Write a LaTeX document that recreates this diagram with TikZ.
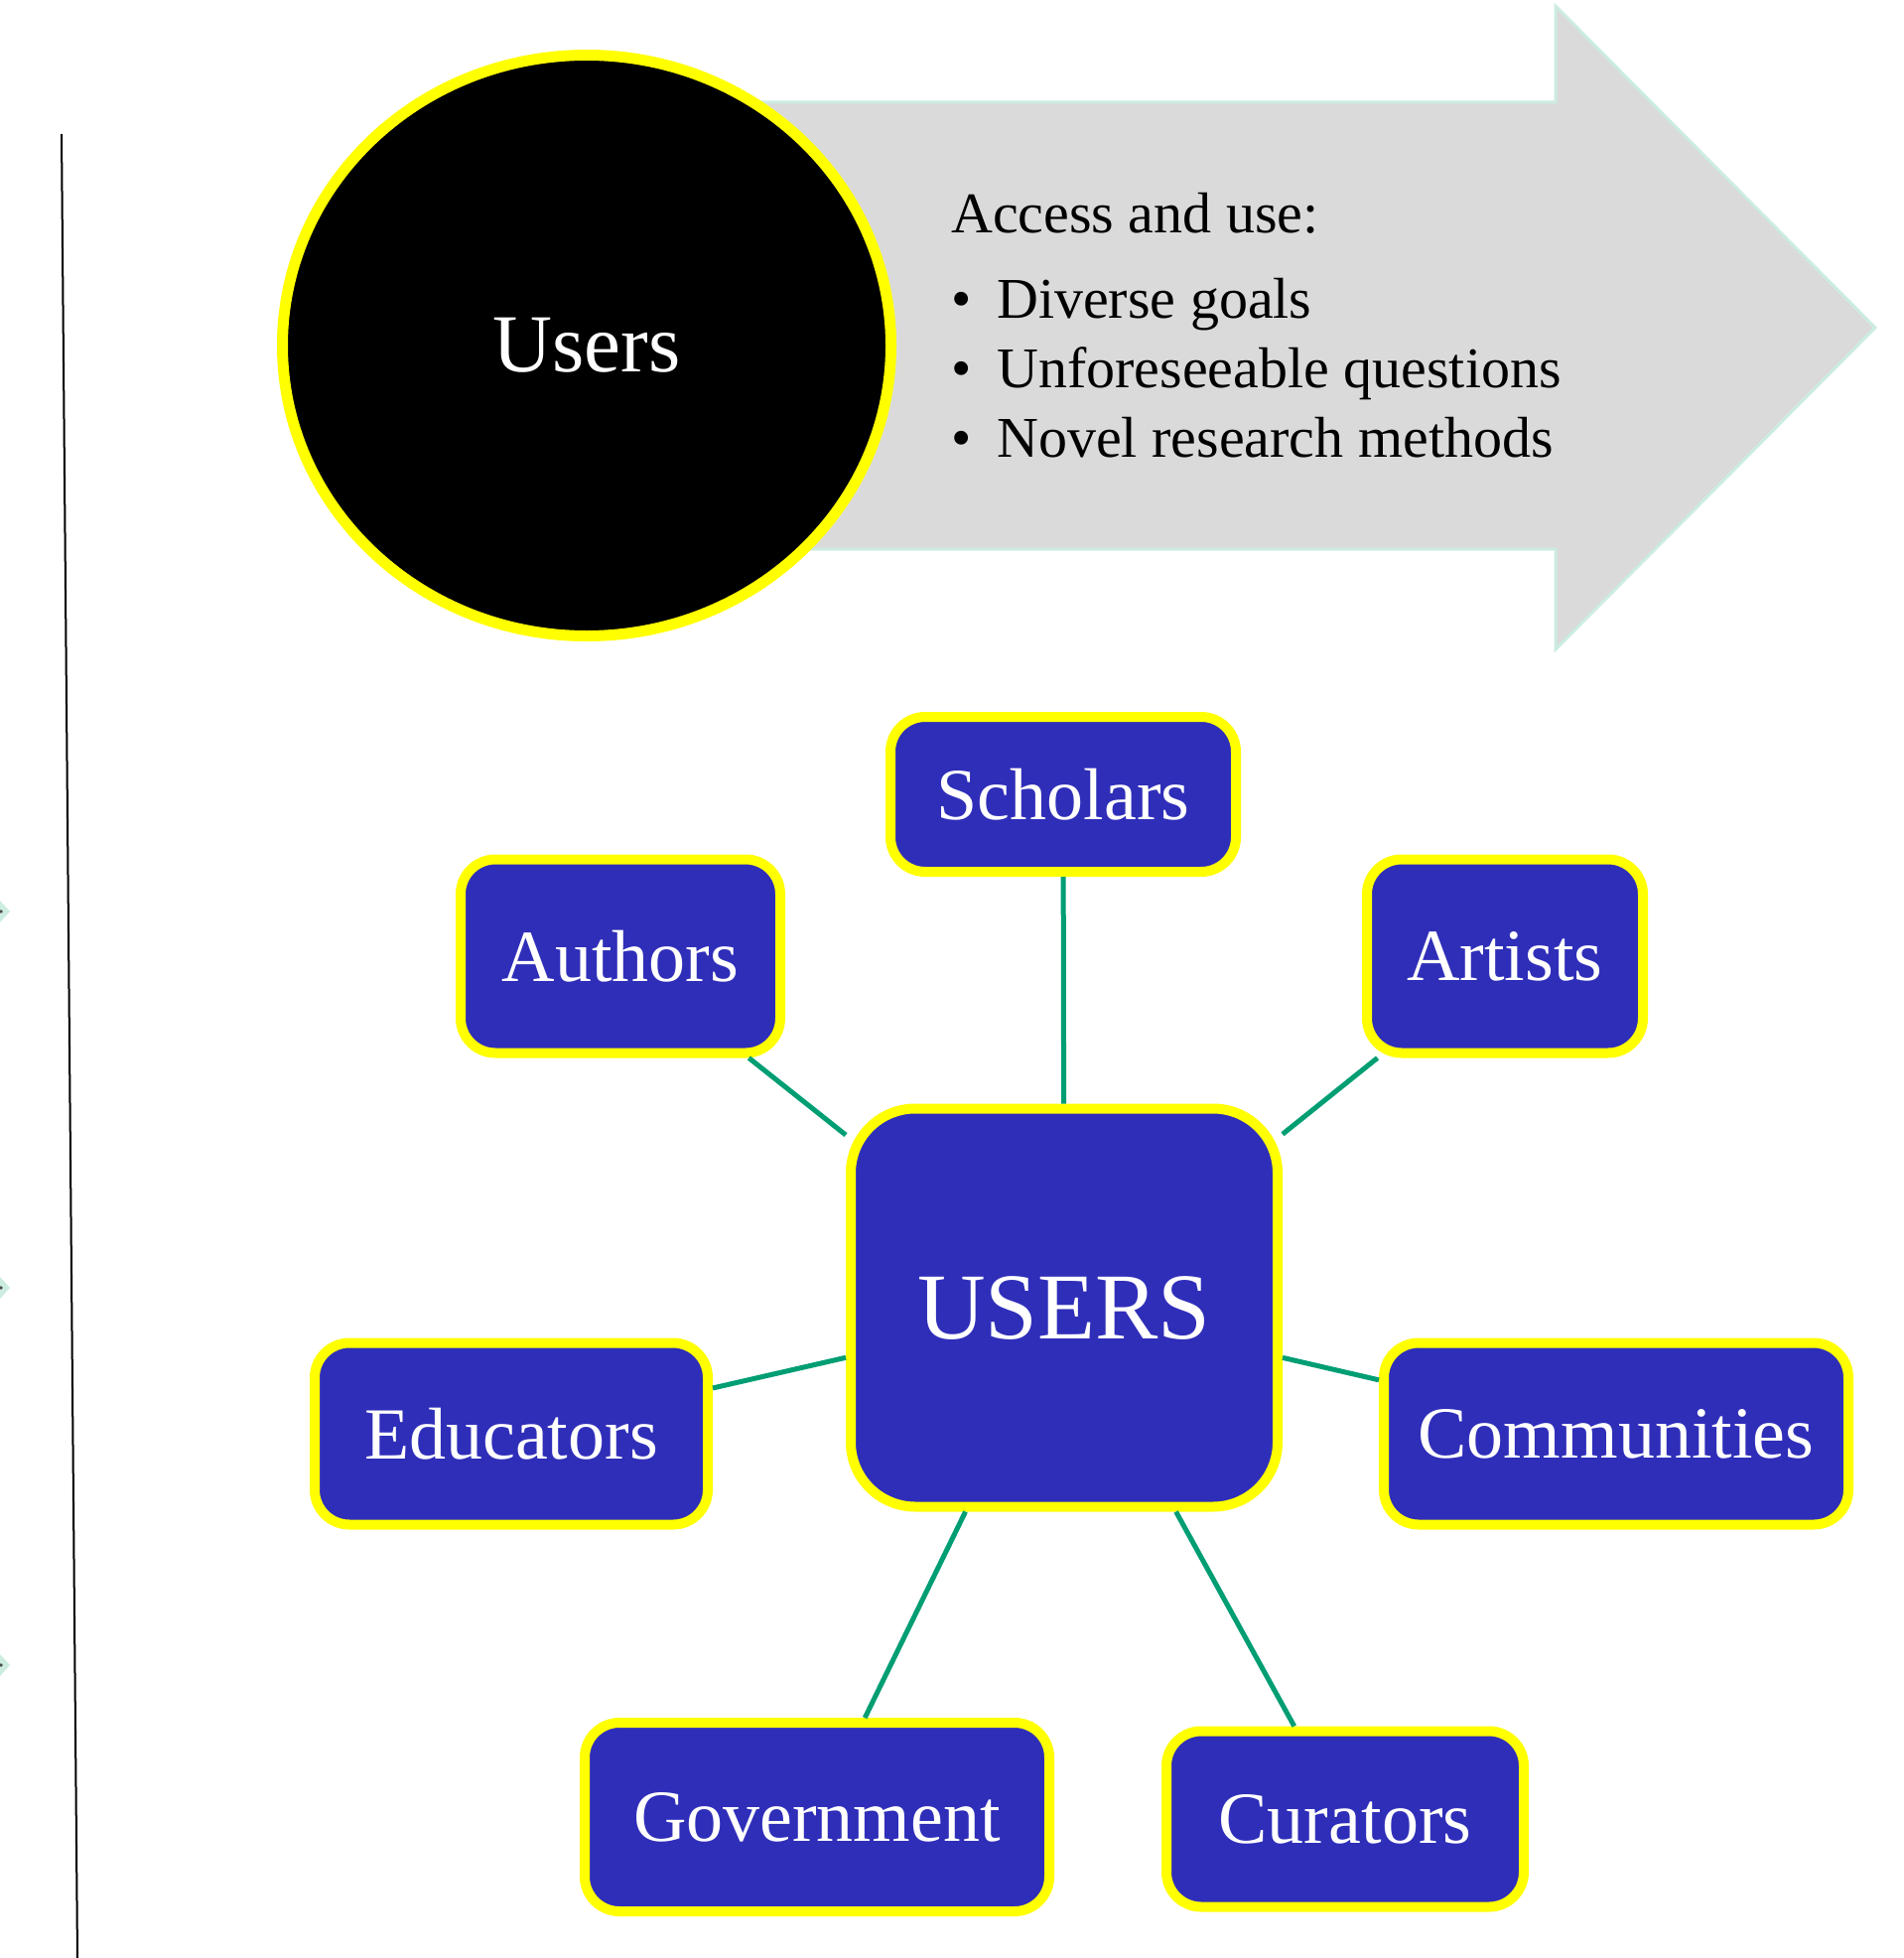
\documentclass[tikz,border=0pt]{standalone}
\usepackage{fontspec}
\setmainfont{Liberation Serif}
\usetikzlibrary{shapes.geometric}
\definecolor{userblue}{RGB}{47, 46, 185}
\definecolor{useryellow}{RGB}{255, 255, 0}
\definecolor{linkgreen}{RGB}{0, 158, 115}
\definecolor{arrowgrey}{RGB}{218, 218, 218}
\definecolor{arrowmint}{RGB}{204, 236, 224}
\tikzstyle{group} = [
  rectangle,
  rounded corners=35pt,
  draw=useryellow,
  line width=10pt,
  fill=userblue,
  text=white,
  inner sep=0pt,
  font=\fontsize{74}{80}\selectfont,
]
\tikzstyle{hub} = [
  group,
  rounded corners=65pt,
  font=\fontsize{95}{100}\selectfont,
]
\tikzstyle{link} = [
  draw=linkgreen,
  line width=5pt,
]
\tikzstyle{listtext} = [
  anchor=base west,
  inner sep=0pt,
  font=\fontsize{58}{64}\selectfont,
]
\tikzstyle{edgemark} = [
  fill=arrowmint,
  draw=none,
]

\begin{document}
\begin{tikzpicture}[x=1pt, y=-1pt]
            \useasboundingbox (0,0) rectangle (1917,1972);

            % Rail on the left
            \coordinate (railtop) at (62,135);
            \coordinate (railbottom) at (78,1972);
            \draw[line width=2pt] (railtop) -- (railbottom);
            \foreach \y in {918,1297,1677} {
                \fill[edgemark] (-10,\y) -- (0,\y-11) -- (10,\y) -- (0,\y+11) -- cycle;
                \fill[black!70] (1,\y) circle (1.8);
            }

            % Big arrow
            \draw[fill=arrowgrey, draw=arrowmint, line width=3pt]
                (700,103) -- (1567,103) -- (1567,6) -- (1889,330)
                -- (1567,654) -- (1567,553) -- (700,553) -- cycle;

            % Circle
            \node[ellipse, draw=useryellow, line width=11pt, fill=black,
                  text=white, inner sep=0pt, minimum width=613pt,
                  minimum height=585pt, font=\fontsize{83}{90}\selectfont]
                (users) at (591,348) {Users};

            % List in the arrow
            \node[listtext] (access) at (958,234) {Access and use:};
            \node[listtext] (goals) at (958,320)
                {\makebox[46pt][l]{\textbullet}Diverse goals};
            \node[listtext] (questions) at (958,390)
                {\makebox[46pt][l]{\textbullet}Unforeseeable questions};
            \node[listtext] (methods) at (958,460)
                {\makebox[46pt][l]{\textbullet}Novel research methods};

            % Hub and groups
            \node[hub, minimum width=430pt, minimum height=401pt] (hub) at (1072,1317) {USERS};
            \node[group, minimum width=348pt, minimum height=156pt] (scholars) at (1071,800) {Scholars};
            \node[group, minimum width=322pt, minimum height=195pt] (authors) at (625,963) {Authors};
            \node[group, minimum width=278pt, minimum height=195pt] (artists) at (1516,963) {Artists};
            \node[group, minimum width=396pt, minimum height=183pt] (educators) at (515,1444) {Educators};
            \node[group, minimum width=468pt, minimum height=183pt] (communities) at (1628,1444) {Communities};
            \node[group, minimum width=468pt, minimum height=190pt] (government) at (823,1830) {Government};
            \node[group, minimum width=360pt, minimum height=177pt] (curators) at (1355,1832) {Curators};

            % Links
            \foreach \n in {scholars,authors,artists,educators,communities,government,curators}
                \draw[link] (hub) -- (\n);
          \end{tikzpicture}
\end{document}
